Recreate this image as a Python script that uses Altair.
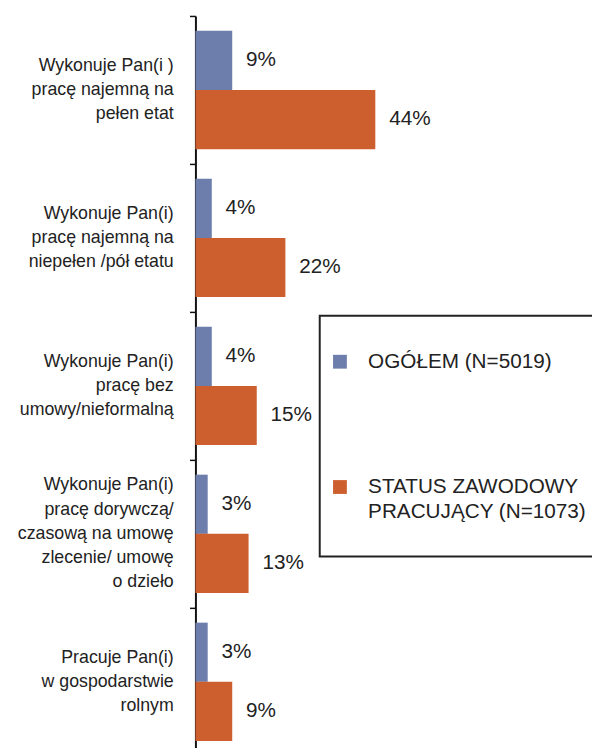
import altair as alt
import pandas as pd

categories = [
    "Wykonuje Pan(i )|pracę najemną na|pełen etat",
    "Wykonuje Pan(i)|pracę najemną na|niepełen /pół etatu",
    "Wykonuje Pan(i)|pracę bez|umowy/nieformalną",
    "Wykonuje Pan(i)|pracę dorywczą/|czasową na umowę|zlecenie/ umowę|o dzieło",
    "Pracuje Pan(i)|w gospodarstwie|rolnym",
]
series_names = ["OGÓŁEM (N=5019)", "STATUS ZAWODOWY|PRACUJĄCY (N=1073)"]
ogolem = [9, 4, 4, 3, 3]
pracujacy = [44, 22, 15, 13, 9]
colors = ["#6E7EAC", "#CD5F2F"]

rows = []
for i, c in enumerate(categories):
    rows.append({"cat": c, "series": series_names[0], "value": ogolem[i]})
    rows.append({"cat": c, "series": series_names[1], "value": pracujacy[i]})
df = pd.DataFrame(rows)
cat_df = pd.DataFrame({"cat": categories})

font = "Liberation Sans"
LINE_H = 24.5
STEP = 150

y_scale = alt.Scale(range=[0, 5 * STEP], paddingInner=0, paddingOuter=0)
y_enc = alt.Y(
    "cat:N",
    sort=categories,
    scale=y_scale,
    axis=alt.Axis(
        title=None,
        labels=False,
        tickBand="extent",
        tickSize=6,
        tickWidth=1.5,
        tickColor="#111111",
        domainColor="#111111",
        domainWidth=2,
    ),
)
x_enc = alt.X("value:Q", scale=alt.Scale(domain=[0, 97]), axis=None)

bars = alt.Chart(df).mark_bar().encode(
    x=x_enc,
    y=y_enc,
    yOffset=alt.YOffset("series:N", sort=series_names,
                        scale=alt.Scale(paddingInner=0, paddingOuter=0.25)),
    color=alt.Color(
        "series:N",
        sort=series_names,
        scale=alt.Scale(domain=series_names, range=colors),
        legend=alt.Legend(
            title=" ",
            titleFontSize=17,
            titlePadding=9,
            orient="none",
            legendX=126,
            legendY=304,
            labelExpr="length(split(datum.label, '|')) > 1 ? split(datum.label + '| ', '|') : datum.label",
            labelFont=font,
            labelFontSize=21,
            labelColor="#222222",
            labelLimit=400,
            labelOffset=18,
            symbolType="square",
            symbolSize=196,
            symbolStrokeWidth=0,
            symbolOpacity=1,
            rowPadding=105,
            padding=10,
            strokeColor="#222222",
            fillColor="white",
        ),
    ),
)

value_labels = alt.Chart(df).mark_text(
    align="left", baseline="middle", dx=14, fontSize=21, font=font, color="#222222"
).encode(
    x=x_enc,
    y=alt.Y("cat:N", sort=categories, scale=y_scale),
    yOffset=alt.YOffset("series:N", sort=series_names, scale=alt.Scale(padding=0.75)),
    text=alt.Text("label:N"),
).transform_calculate(label="datum.value + '%'")

cat_labels = alt.Chart(cat_df).mark_text(
    align="right", baseline="middle", fontSize=18, font=font, color="#222222",
    lineHeight=LINE_H,
).encode(
    x=alt.value(-22),
    y=alt.Y("cat:N", sort=categories, scale=y_scale),
    yOffset=alt.YOffset("shift:Q", scale=None),
    text=alt.Text("lines:N"),
).transform_calculate(
    lines="split(datum.cat, '|')",
    shift=f"{STEP / 2} - (length(split(datum.cat, '|')) - 1) * {LINE_H / 2}",
)

chart = (
    alt.layer(bars, value_labels, cat_labels)
    .resolve_scale(yOffset="independent")
    .properties(
        width=402,
        height=737,
        padding={"left": 190, "top": 3, "right": 0, "bottom": 0},
        autosize=alt.AutoSizeParams(type="none"),
    )
    .configure(
        style={"guide-label": {"lineHeight": 25}},
        view=alt.ViewConfig(stroke=None),
        legend=alt.LegendConfig(strokeWidth=2),
    )
)

chart.save("out.html", embed_options={"renderer": "svg", "actions": False})
